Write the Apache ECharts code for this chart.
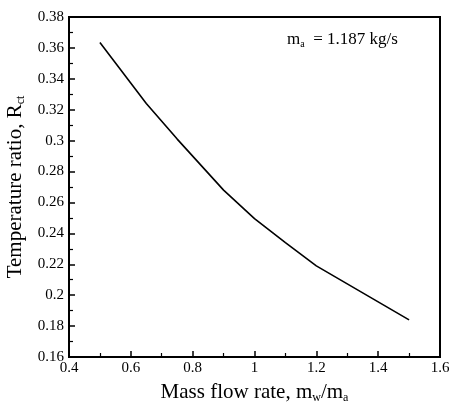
<!DOCTYPE html>
<html>
<head>
<meta charset="utf-8">
<script src="https://cdn.jsdelivr.net/npm/echarts@6/dist/echarts.min.js"></script>
<style>
html,body{margin:0;padding:0;background:#fff;}
#c{width:450px;height:403px;}
</style>
</head>
<body>
<div id="c"></div>
<script>
var massRatio = [0.5, 0.65, 0.75, 0.9, 1.0, 1.1, 1.2, 1.5];
var tempRatio = [0.3635, 0.324, 0.301, 0.268, 0.2495, 0.234, 0.219, 0.184];
var xTicks = [0.4, 0.6, 0.8, 1.0, 1.2, 1.4, 1.6];
var yTicks = [0.16, 0.18, 0.2, 0.22, 0.24, 0.26, 0.28, 0.3, 0.32, 0.34, 0.36, 0.38];

var FONT = '"Liberation Serif", "Times New Roman", serif';
var chart = echarts.init(document.getElementById('c'), null, {renderer: 'canvas'});
var data = massRatio.map(function (x, i) { return [x, tempRatio[i]]; });

function fmt(v) { return String(Math.round(v * 1000) / 1000); }

chart.setOption({
  animation: false,
  backgroundColor: '#fff',
  grid: {left: 69, top: 17, right: 10, bottom: 46, containLabel: false, outerBoundsMode: 'none',
    show: true, borderColor: '#000', borderWidth: 2, backgroundColor: 'transparent'},
  xAxis: {
    type: 'value', min: xTicks[0], max: xTicks[xTicks.length - 1], interval: 0.2,
    axisLine: {show: true, lineStyle: {color: '#000', width: 2}},
    axisTick: {show: true, inside: true, length: 6, lineStyle: {color: '#000', width: 1.5}},
    minorTick: {show: true, splitNumber: 2, length: 4, lineStyle: {color: '#000', width: 1.2}},
    splitLine: {show: false},
    axisLabel: {color: '#000', fontFamily: FONT, fontSize: 15, margin: 4, formatter: fmt},
    name: 'Mass flow rate, m{s|w}/m{s|a}',
    nameLocation: 'middle', nameGap: 24,
    nameTextStyle: {color: '#000', fontFamily: FONT, fontSize: 21,
      rich: {s: {fontSize: 12, fontFamily: FONT, color: '#000', padding: [11, 0, 0, 0]}}}
  },
  yAxis: {
    type: 'value', min: yTicks[0], max: yTicks[yTicks.length - 1], interval: 0.02,
    axisLine: {show: true, lineStyle: {color: '#000', width: 2}},
    axisTick: {show: true, inside: true, length: 6, lineStyle: {color: '#000', width: 1.5}},
    minorTick: {show: true, splitNumber: 2, length: 4, lineStyle: {color: '#000', width: 1.2}},
    splitLine: {show: false},
    axisLabel: {color: '#000', fontFamily: FONT, fontSize: 15, margin: 5, formatter: fmt},
    name: 'Temperature ratio, R{s|ct}',
    nameLocation: 'middle', nameGap: 40,
    nameTextStyle: {color: '#000', fontFamily: FONT, fontSize: 21,
      rich: {s: {fontSize: 12, fontFamily: FONT, color: '#000', padding: [11, 0, 0, 0]}}}
  },
  graphic: [{
    type: 'text', left: 287, top: 31,
    style: {
      text: 'm{s|a}  = 1.187 kg/s',
      fontFamily: FONT, fontSize: 17, fill: '#000',
      rich: {s: {fontSize: 10, fontFamily: FONT, fill: '#000', padding: [10, 0, 0, 0]}}
    }
  }],
  series: [{
    type: 'line', data: data, symbol: 'none', smooth: false,
    lineStyle: {color: '#000', width: 1.6}
  }]
});
</script>
</body>
</html>
